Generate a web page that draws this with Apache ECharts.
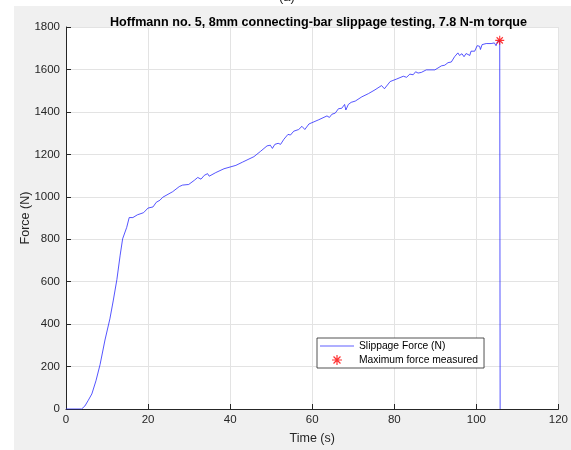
<!DOCTYPE html>
<html>
<head>
<meta charset="utf-8">
<script src="https://cdn.jsdelivr.net/npm/echarts@6/dist/echarts.min.js"></script>
<style>
html,body{margin:0;padding:0;background:#fff;}
#chart{width:571px;height:450px;}
</style>
</head>
<body>
<div id="chart"></div>
<script>
const titleText = 'Hoffmann no. 5, 8mm connecting-bar slippage testing, 7.8 N-m torque';
const xAxisName = 'Time (s)';
const yAxisName = 'Force (N)';
const seriesNames = ['Slippage Force (N)', 'Maximum force measured'];

const timeS = [0, 3.8, 4.6, 5.4, 6.3, 7.3, 8.3, 9.5, 10.7, 11.5, 12.4, 13.2, 13.8, 14.8, 15.4, 16.3, 16.6, 17.4, 18.9, 20.0, 21.2, 22.0, 22.9, 23.6, 26.0, 27.6, 28.4, 29.9, 31.3, 32.1, 32.9, 33.7, 34.5, 34.9, 36.5, 38.5, 41.4, 43.0, 44.6, 45.8, 47.4, 49.0, 49.8, 50.3, 50.9, 51.7, 52.3, 53.1, 54.1, 54.7, 55.5, 56.7, 57.5, 58.2, 59.2, 61.6, 63.6, 64.2, 64.8, 65.6, 66.4, 67.2, 67.9, 68.2, 68.8, 69.5, 70.5, 72.1, 73.7, 75.3, 76.9, 77.6, 79.0, 80.6, 82.2, 83.0, 83.8, 84.6, 85.2, 85.8, 86.6, 87.8, 88.2, 89.9, 91.5, 92.3, 93.1, 93.9, 94.7, 95.5, 95.9, 96.5, 97.0, 97.5, 98.4, 98.7, 99.6, 100.2, 100.8, 101.0, 101.4, 102.4, 103.6, 104.4, 104.8, 105.2, 105.7, 105.8];
const forceN = [0, 0, 14, 40, 71, 133, 209, 325, 425, 509, 610, 725, 802, 856, 902, 902, 895, 915, 925, 947, 952, 974, 984, 998, 1024, 1048, 1055, 1058, 1078, 1091, 1083, 1101, 1109, 1097, 1114, 1132, 1148, 1163, 1178, 1189, 1214, 1240, 1243, 1228, 1247, 1252, 1247, 1271, 1294, 1291, 1309, 1317, 1332, 1317, 1343, 1363, 1381, 1374, 1389, 1394, 1415, 1417, 1435, 1409, 1435, 1445, 1451, 1471, 1486, 1504, 1524, 1509, 1543, 1555, 1568, 1563, 1578, 1575, 1589, 1583, 1586, 1598, 1591, 1598, 1617, 1620, 1632, 1635, 1660, 1678, 1666, 1674, 1660, 1675, 1666, 1686, 1686, 1712, 1709, 1694, 1717, 1722, 1722, 1725, 1712, 1732, 1737, 0];
const maxPoint = [105.7, 1737];

const xMin = 0, xMax = 120, xStep = 20;
const yMin = 0, yMax = 1800, yStep = 200;

const lineData = timeS.map((t, i) => [t, forceN[i]]);
const starPath = 'path://M-0.12,-1L0.12,-1L0.12,1L-0.12,1Z M-1,-0.12L1,-0.12L1,0.12L-1,0.12Z M-0.78,-0.61L-0.61,-0.78L0.78,0.61L0.61,0.78Z M0.61,-0.78L0.78,-0.61L-0.61,0.78L-0.78,0.61Z';
const lineIcon = 'path://M0,0L36,0L36,1L0,1Z';

const chart = echarts.init(document.getElementById('chart'), null, {renderer: 'canvas'});
const font = 'Liberation Sans, Arial, Helvetica, sans-serif';
const axisColor = '#262626';

chart.setOption({
  backgroundColor: '#ffffff',
  animation: false,
  textStyle: {fontFamily: font},
  graphic: [
    {type: 'rect', left: 14, top: 6, shape: {width: 557, height: 444}, style: {fill: '#f0f0f0'}, z: -10, silent: true},
    {type: 'text', left: 279, top: -9, style: {text: '(a)', font: '13px ' + font, fill: '#262626'}, z: -5}
  ],
  title: {
    text: titleText,
    left: 313.5, top: 11, textAlign: 'center',
    textStyle: {fontFamily: font, fontSize: 12.6, fontWeight: 'bold', color: '#000'}
  },
  grid: {left: 66, top: 27, width: 497, height: 390, show: true, backgroundColor: '#ffffff', borderWidth: 0, containLabel: false},
  legend: {
    orient: 'vertical', left: 317, top: 338,
    padding: [3, 6, 3, 3], itemGap: 4, itemWidth: 34, itemHeight: 10,
    backgroundColor: '#ffffff', borderColor: axisColor, borderWidth: 0.8, borderRadius: 0,
    textStyle: {fontFamily: font, fontSize: 10.3, color: '#000'},
    data: [
      {name: seriesNames[0], icon: lineIcon, itemStyle: {color: '#6060ff'}},
      {name: seriesNames[1], icon: starPath, itemStyle: {color: '#ff0000'}}
    ]
  },
  xAxis: {
    type: 'value', min: xMin, max: xMax, interval: xStep,
    name: xAxisName, nameLocation: 'middle', nameGap: 23, nameMoveOverlap: false,
    nameTextStyle: {fontFamily: font, fontSize: 12.5, color: axisColor},
    axisLine: {show: true, lineStyle: {color: axisColor, width: 1}},
    axisTick: {show: true, inside: true, length: 5, lineStyle: {color: axisColor}},
    axisLabel: {fontFamily: font, fontSize: 11.5, color: axisColor, margin: 5},
    splitLine: {show: true, lineStyle: {color: '#e3e3e3', width: 1}}
  },
  yAxis: {
    type: 'value', min: yMin, max: yMax, interval: yStep,
    name: yAxisName, nameLocation: 'middle', nameGap: 34, nameMoveOverlap: false,
    nameTextStyle: {fontFamily: font, fontSize: 12.5, color: axisColor},
    axisLine: {show: true, lineStyle: {color: axisColor, width: 1}},
    axisTick: {show: true, inside: true, length: 5, lineStyle: {color: axisColor}},
    axisLabel: {fontFamily: font, fontSize: 11.5, color: axisColor, margin: 6, formatter: v => String(v)},
    splitLine: {show: true, lineStyle: {color: '#e3e3e3', width: 1}}
  },
  series: [
    {
      name: seriesNames[0], type: 'line', data: lineData,
      symbol: 'none', showSymbol: false,
      lineStyle: {color: '#2a2aff', width: 0.8},
      itemStyle: {color: '#2a2aff'},
      z: 3
    },
    {
      name: seriesNames[1], type: 'scatter', data: [maxPoint],
      symbol: starPath, symbolSize: 9,
      itemStyle: {color: '#ff0000'},
      z: 4
    }
  ]
});
</script>
</body>
</html>
